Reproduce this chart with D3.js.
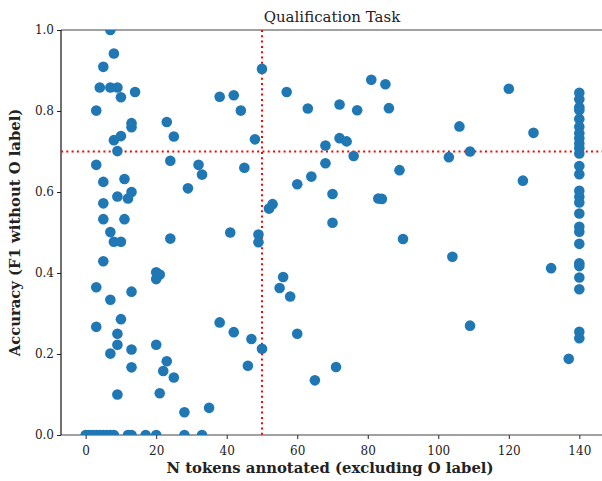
<!DOCTYPE html>
<html>
<head>
<meta charset="utf-8">
<script src="https://cdn.jsdelivr.net/npm/d3@7"></script>
<style>
  body { margin: 0; background: #fff; }
  text { font-family: "DejaVu Serif", "Liberation Serif", serif; }
</style>
</head>
<body>
<svg id="chart" width="602" height="481"></svg>
<script>
// tokens annotated (x) and accuracy (y)
const leftTokens = [7,8,5,4,7,9,10,14,3,13,13,23,25,8,10,9,3,24,32,33,5,11,29,13,9,12,5,5,11,7,8,10,24,5,20,21,20,3,13,7,10,3,9,9,7,13,20,23,22,13,25,9,21,28,35];
const leftAcc = [1.0,0.942,0.909,0.858,0.858,0.858,0.834,0.847,0.801,0.77,0.76,0.773,0.737,0.728,0.738,0.701,0.667,0.677,0.667,0.643,0.625,0.632,0.609,0.6,0.589,0.584,0.572,0.533,0.533,0.501,0.477,0.477,0.485,0.429,0.402,0.396,0.385,0.365,0.354,0.334,0.286,0.267,0.25,0.223,0.201,0.211,0.223,0.182,0.158,0.167,0.142,0.1,0.103,0.056,0.067];

const zeroTokens = [0,1,2,3,4,5,6,7,8,12,13,17,20,28,33];

const midTokens = [50,38,42,44,57,63,72,77,81,85,86,48,68,72,74,76,45,68,89,64,60,70,83,84,53,52,70,41,49,49,90,56,55,58,38,42,47,60,50,46,71,65];
const midAcc = [0.904,0.835,0.839,0.801,0.847,0.806,0.816,0.802,0.877,0.866,0.807,0.73,0.715,0.733,0.725,0.689,0.66,0.671,0.654,0.638,0.619,0.595,0.584,0.583,0.57,0.559,0.524,0.5,0.495,0.476,0.484,0.39,0.363,0.342,0.278,0.254,0.237,0.25,0.213,0.171,0.168,0.135];

const rightTokens = [120,106,127,103,109,124,104,109,132,137];
const rightAcc = [0.855,0.762,0.746,0.686,0.7,0.628,0.44,0.27,0.412,0.188];

const maxAcc = [0.845,0.829,0.809,0.802,0.78,0.761,0.745,0.733,0.72,0.708,0.695,0.664,0.644,0.603,0.588,0.574,0.547,0.514,0.502,0.472,0.424,0.417,0.389,0.36,0.255,0.239];

const xTicks = [0,20,40,60,80,100,120,140];
const yTicks = [0,0.2,0.4,0.6,0.8,1.0];
const xThreshold = 50, yThreshold = 0.7;

const points = [
  ...leftTokens.map((t, i) => ({t, a: leftAcc[i]})),
  ...zeroTokens.map(t => ({t, a: 0})),
  ...midTokens.map((t, i) => ({t, a: midAcc[i]})),
  ...rightTokens.map((t, i) => ({t, a: rightAcc[i]})),
  ...maxAcc.map(a => ({t: 140, a}))
];

const svg = d3.select('#chart');
const m = {left: 61, right: 604, top: 30, bottom: 435};

const x = d3.scaleLinear().domain([-7, 147]).range([m.left, m.right]);
const y = d3.scaleLinear().domain([0, 1]).range([m.bottom, m.top]);

// axes
const xAxis = svg.append('g')
  .attr('transform', `translate(0,${m.bottom})`)
  .call(d3.axisBottom(x).tickValues(xTicks).tickFormat(d3.format('d')).tickSizeOuter(0).tickSize(4));
const yAxis = svg.append('g')
  .attr('transform', `translate(${m.left},0)`)
  .call(d3.axisLeft(y).tickValues(yTicks).tickFormat(d3.format('.1f')).tickSizeOuter(0).tickSize(4));

[xAxis, yAxis].forEach(g => {
  g.select('.domain').remove();
  g.selectAll('.tick line').attr('stroke', '#222').attr('stroke-width', 1);
  g.selectAll('.tick text').attr('fill', '#222').style('font-size', '12px');
});
xAxis.selectAll('.tick text').attr('dy', '1.05em');

// spines
svg.append('line').attr('x1', m.left).attr('x2', m.right).attr('y1', m.top).attr('y2', m.top)
  .attr('stroke', '#444').attr('stroke-width', 1.2);
svg.append('line').attr('x1', m.left).attr('x2', m.right).attr('y1', m.bottom).attr('y2', m.bottom)
  .attr('stroke', '#444').attr('stroke-width', 1.2);
svg.append('line').attr('x1', m.left).attr('x2', m.left).attr('y1', m.top).attr('y2', m.bottom)
  .attr('stroke', '#111').attr('stroke-width', 1.2);

// clip for points
svg.append('clipPath').attr('id', 'plot')
  .append('rect').attr('x', m.left).attr('y', m.top).attr('width', m.right - m.left).attr('height', m.bottom - m.top);

// threshold lines
svg.append('line')
  .attr('x1', x(xThreshold)).attr('x2', x(xThreshold)).attr('y1', m.top).attr('y2', m.bottom)
  .attr('stroke', 'red').attr('stroke-width', 2).attr('stroke-dasharray', '2,3.3');
svg.append('line')
  .attr('x1', m.left).attr('x2', m.right).attr('y1', y(yThreshold)).attr('y2', y(yThreshold))
  .attr('stroke', 'red').attr('stroke-width', 2).attr('stroke-dasharray', '2,3.3');

svg.append('g').attr('clip-path', 'url(#plot)')
  .selectAll('circle').data(points).enter().append('circle')
  .attr('cx', d => x(d.t))
  .attr('cy', d => y(d.a))
  .attr('r', 5.3)
  .attr('fill', '#1f77b4');

// labels
svg.append('text').attr('x', 332).attr('y', 22)
  .attr('text-anchor', 'middle').style('font-size', '15px').attr('fill', '#222')
  .text('Qualification Task');
svg.append('text').attr('x', 330).attr('y', 473)
  .attr('text-anchor', 'middle').style('font-size', '14.8px').style('font-weight', 'bold').attr('fill', '#222')
  .text('N tokens annotated (excluding O label)');
svg.append('text').attr('transform', `translate(20,${(m.top + m.bottom) / 2}) rotate(-90)`)
  .attr('text-anchor', 'middle').style('font-size', '14.8px').style('font-weight', 'bold').attr('fill', '#222')
  .text('Accuracy (F1 without O label)');
</script>
</body>
</html>
